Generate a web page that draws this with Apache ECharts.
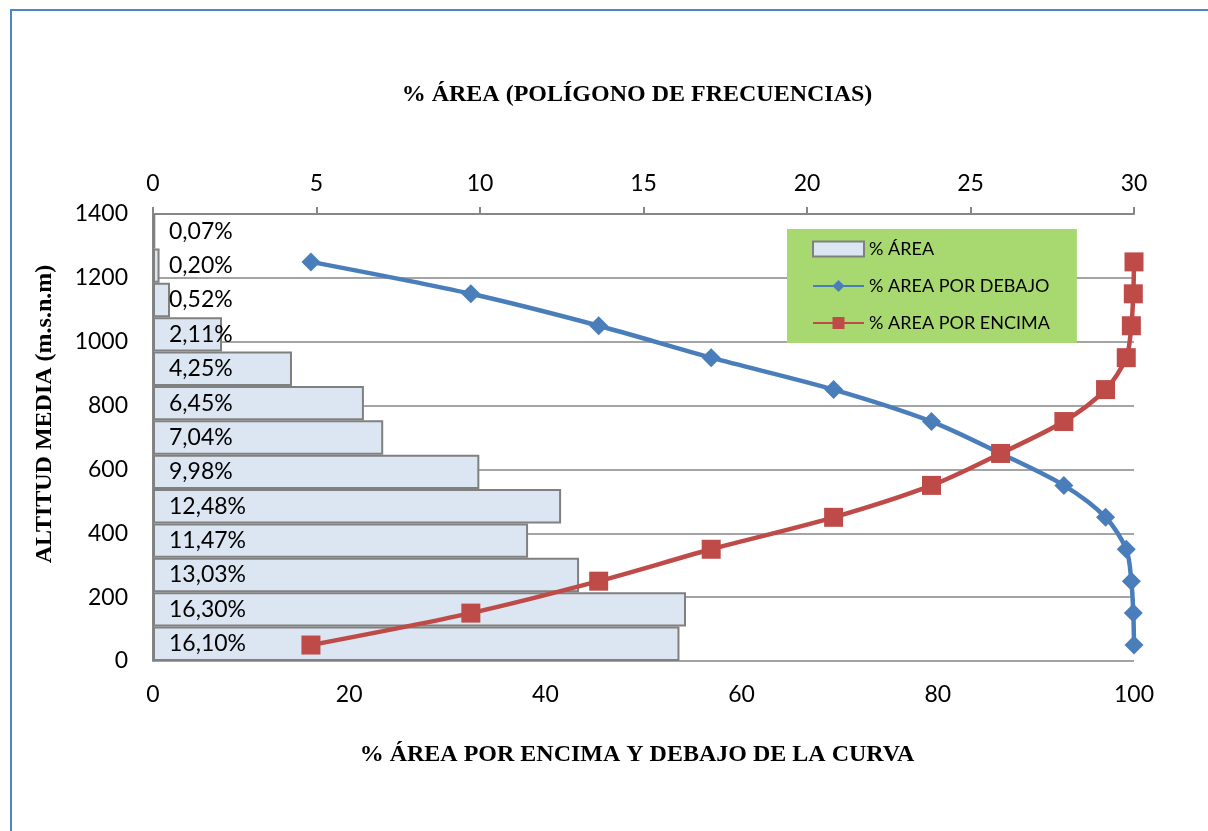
<!DOCTYPE html>
<html>
<head>
<meta charset="utf-8">
<script src="https://cdn.jsdelivr.net/npm/echarts@6/dist/echarts.min.js"></script>
<style>html,body{margin:0;padding:0;background:#fff;}#c{width:1208px;height:831px;}</style>
</head>
<body>
<div id="c"></div>
<script>
// Altitude bands (bottom to top) and % area per band
var bandCategories = ['0-100','100-200','200-300','300-400','400-500','500-600','600-700','700-800','800-900','900-1000','1000-1100','1100-1200','1200-1300'];
var pctArea = [16.10, 16.30, 13.03, 11.47, 12.48, 9.98, 7.04, 6.45, 4.25, 2.11, 0.52, 0.20, 0.07];
// Mean altitudes of the curve points
var altitudes = [50, 150, 250, 350, 450, 550, 650, 750, 850, 950, 1050, 1150, 1250];
var pctBelow = [100, 99.93, 99.73, 99.21, 97.10, 92.85, 86.40, 79.36, 69.38, 56.90, 45.43, 32.40, 16.10];
var pctAbove = [16.10, 32.40, 45.43, 56.90, 69.38, 79.36, 86.40, 92.85, 97.10, 99.21, 99.73, 99.93, 100];

function pairs(xs, ys) { return xs.map(function (x, i) { return [x, ys[i]]; }); }

var chart = echarts.init(document.getElementById('c'));
var axisGray = '#868686';
var tickFont = { fontFamily: 'Lato', fontSize: 23, color: '#000', formatter: function (v) { return String(v); } };
var serifBold = 'bold 24px "Liberation Serif"';
chart.setOption({
  animation: false,
  backgroundColor: '#fff',
  graphic: [
    { type: 'rect', shape: { x: 11, y: 10, width: 1400, height: 1000 }, style: { fill: 'none', stroke: '#4A86C8', lineWidth: 2 }, silent: true, z: 100 },
    { type: 'text', x: 637, y: 95, style: { text: '% ÁREA (POLÍGONO DE FRECUENCIAS)', font: serifBold, fill: '#000', align: 'center', verticalAlign: 'middle' } },
    { type: 'text', x: 637, y: 755, style: { text: '% ÁREA POR ENCIMA Y DEBAJO DE LA CURVA', font: serifBold, fill: '#000', align: 'center', verticalAlign: 'middle' } },
    { type: 'text', rotation: Math.PI / 2, x: 45, y: 414, style: { text: 'ALTITUD MEDIA (m.s.n.m)', font: serifBold, fill: '#000', align: 'center', verticalAlign: 'middle' } }
  ],
  legend: {
    orient: 'vertical',
    left: 787, top: 229,
    backgroundColor: '#A8D970',
    padding: [11, 27, 11, 25],
    itemGap: 19,
    itemWidth: 51, itemHeight: 15,
    textStyle: { fontFamily: 'Lato', fontSize: 18, color: '#000', padding: [0, 0, 0, 0] },
    data: [
      { name: '% ÁREA', icon: 'rect' },
      { name: '% AREA POR DEBAJO' },
      { name: '% AREA POR ENCIMA' }
    ]
  },
  grid: { left: 153, right: 74, top: 214, bottom: 170, containLabel: false },
  xAxis: [
    {
      type: 'value', position: 'bottom', min: 0, max: 100, interval: 20,
      axisLine: { show: false }, axisTick: { show: false }, splitLine: { show: false },
      axisLabel: Object.assign({ margin: 22 }, tickFont)
    },
    {
      type: 'value', position: 'top', min: 0, max: 30, interval: 5,
      axisLine: { show: true, onZero: false, lineStyle: { color: axisGray, width: 2 } },
      axisTick: { show: true, length: 7, lineStyle: { color: axisGray, width: 2 } },
      splitLine: { show: false },
      axisLabel: Object.assign({ margin: 19 }, tickFont)
    }
  ],
  yAxis: [
    {
      type: 'value', min: 0, max: 1400, interval: 200,
      axisLine: { show: true, onZero: false, lineStyle: { color: axisGray, width: 2 } },
      axisTick: { show: false },
      splitLine: { show: true, lineStyle: { color: axisGray, width: 1.5 } },
      axisLabel: Object.assign({ margin: 25 }, tickFont)
    },
    {
      type: 'category', data: bandCategories, show: false, position: 'right'
    }
  ],
  series: [
    {
      name: '% ÁREA', type: 'bar', xAxisIndex: 1, yAxisIndex: 1,
      data: pctArea, barCategoryGap: '0%',
      itemStyle: { color: '#DCE6F2', borderColor: '#808080', borderWidth: 2 },
      label: {
        show: true, position: 'insideLeft', distance: 16,
        fontFamily: 'Lato', fontSize: 23, color: '#000',
        formatter: function (p) { return p.value.toFixed(2).replace('.', ',') + '%'; }
      },
      z: 2
    },
    {
      name: '% AREA POR DEBAJO', type: 'line', xAxisIndex: 0, yAxisIndex: 0,
      data: pairs(pctBelow, altitudes), smooth: 0.3,
      symbol: 'diamond', symbolSize: 19,
      lineStyle: { color: '#4A7EBB', width: 4.5 },
      itemStyle: { color: '#4A7EBB' },
      z: 4
    },
    {
      name: '% AREA POR ENCIMA', type: 'line', xAxisIndex: 0, yAxisIndex: 0,
      data: pairs(pctAbove, altitudes), smooth: 0.3,
      symbol: 'rect', symbolSize: 19,
      lineStyle: { color: '#BE4B48', width: 4.5 },
      itemStyle: { color: '#BE4B48' },
      z: 4
    }
  ]
});
</script>
</body>
</html>
